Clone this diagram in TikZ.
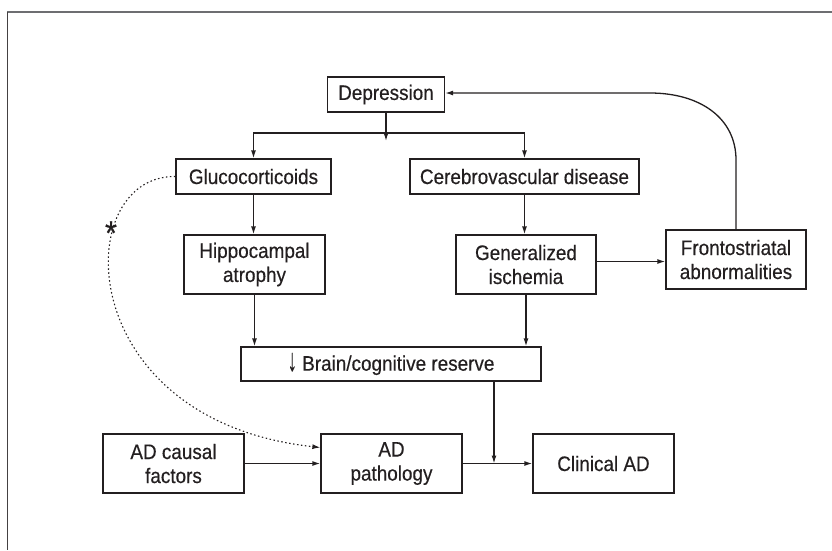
\documentclass[tikz,border=0pt]{standalone}
\usepackage{fontspec}
\setmainfont[FakeStretch=0.9,FakeBold=0.4]{Liberation Sans}
\usetikzlibrary{arrows.meta}
\definecolor{ink}{HTML}{231F20}
\definecolor{rule}{HTML}{6D6E71}

\begin{document}
\begin{tikzpicture}[x=1pt,y=-1pt,
	box/.style={draw=ink,line width=1.3pt,text=ink,align=center,inner sep=0pt,
		font=\fontsize{21}{24}\selectfont,minimum width=141pt,minimum height=59pt},
	link/.style={draw=ink,line width=1.3pt,-{Latex[length=8pt,width=5pt]}},
	hint/.style={link,line width=1.1pt,dash pattern=on 1.5pt off 2.5pt}]
	\useasboundingbox (0,0) rectangle (832,550);
	\draw[rule,line width=2pt] (7,12) -- (832,12);
	\draw[ink!85,line width=0.9pt] (7,12) -- (7,550);

	\node[box,minimum width=117pt,minimum height=35pt] (dep) at (386,94.5) {Depression};
	\node[box,minimum width=155pt,minimum height=35pt] (gluco) at (253.5,176.5) {Glucocorticoids};
	\node[box,minimum width=229pt,minimum height=35pt] (cereb) at (524.5,176.5) {Cerebrovascular disease};
	\node[box] (hippo) at (254.5,264.5) {Hippocampal\\atrophy};
	\node[box,minimum width=140pt] (isch) at (526,264.5) {Generalized\\ischemia};
	\node[box,minimum width=140pt] (fronto) at (736,259.5) {Frontostriatal\\abnormalities};
	\node[box,minimum width=300pt,minimum height=34pt] (brain) at (391,364) {\scalebox{1}[1.5]{↓} Brain/cognitive reserve};
	\node[box] (causal) at (173.5,463.5) {AD causal\\factors};
	\node[box] (path) at (391.5,463.5) {AD\\pathology};
	\node[box] (clin) at (603.5,463.5) {Clinical AD};
	\node[text=ink,font=\fontsize{34}{34}\selectfont,inner sep=0pt] (star) at (111,233) {*};

	\coordinate (split) at (386,133);
	\coordinate (bend) at (650,93);
	\coordinate (join) at (494,463.5);

	\draw[link] (dep.south) -- ([yshift=-8pt]split);
	\draw[link] (split) -| (gluco.north);
	\draw[link] (split) -| (cereb.north);
	\draw[link] (gluco.south) -- (gluco.south |- hippo.north);
	\draw[link] (cereb.south) -- (cereb.south |- isch.north);
	\draw[link] (hippo.south) -- (hippo.south |- brain.north);
	\draw[link] (isch.south) -- (isch.south |- brain.north);
	\draw[link] ([yshift=3pt]isch.east) -- ([yshift=3pt]isch.east -| fronto.west);
	\draw[link] (fronto.north) -- (736,160) .. controls (736,118) and (700,93) .. (bend) -- (dep.east |- bend);
	\draw[link] (brain.south -| join) -- (join);
	\draw[link] (causal) -- (path);
	\draw[link] (path) -- (clin);
	\draw[hint] (gluco.west) .. controls (70,175) and (70,420) .. ([yshift=16pt]path.west);
\end{tikzpicture}
\end{document}
